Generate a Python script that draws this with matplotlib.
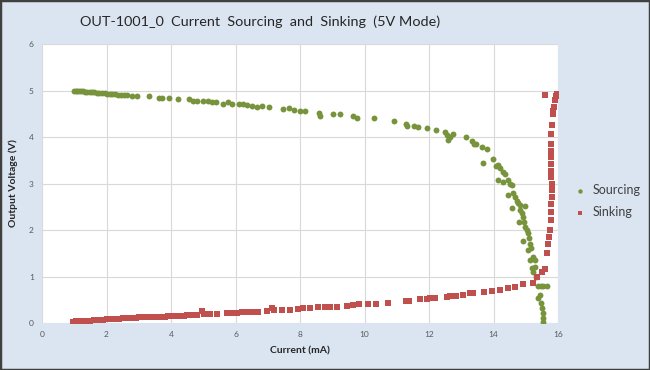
"""OUT-1001_0 current sourcing / sinking curves (5V mode)."""
import matplotlib
matplotlib.use("Agg")
import matplotlib.pyplot as plt
from matplotlib.patches import Rectangle

# Sourcing: output voltage vs load current (mA, V)
src_current = [
    1.00, 1.05, 1.10, 1.15, 1.20, 1.27, 1.33, 1.40, 1.48, 1.55, 1.62, 1.70,
    1.78, 1.86, 1.94, 2.02, 2.10, 2.18, 2.27, 2.36, 2.45, 2.55, 2.63, 2.78,
    2.96, 3.32, 3.64, 3.71, 3.94, 4.23, 4.57, 4.69, 4.82, 4.98, 5.16, 5.26,
    5.40, 5.60, 5.78, 5.90, 6.11, 6.24, 6.37, 6.50, 6.68, 6.81, 7.05, 7.46,
    7.67, 7.82, 8.00, 8.16, 8.60, 8.62, 9.01, 9.24, 9.65, 9.76, 10.30, 10.92,
    11.29, 11.31, 11.53, 11.67, 11.93, 12.20, 12.50, 12.55, 12.60, 12.65, 12.75,
    13.13, 13.32, 13.40, 13.46, 13.64, 13.81, 13.66, 13.97, 14.07, 14.15, 14.20,
    14.29, 14.36, 14.15, 14.29, 14.46, 14.51, 14.56, 14.46, 14.61, 14.67, 14.72,
    14.77, 14.82, 14.98, 14.58, 14.82, 14.87, 14.90, 14.95, 14.98, 15.03, 15.08,
    14.79, 14.90, 15.11, 15.13, 15.06, 15.16, 15.23, 15.29, 15.13, 15.18, 15.29,
    15.23, 15.32, 15.39, 15.47, 15.54, 15.65, 15.44, 15.39, 15.46, 15.49, 15.53,
    15.54, 15.54,
]
src_voltage = [
    4.99, 4.99, 4.99, 4.98, 4.98, 4.98, 4.97, 4.97, 4.96, 4.96, 4.96, 4.95,
    4.95, 4.94, 4.94, 4.93, 4.93, 4.92, 4.92, 4.91, 4.91, 4.90, 4.90, 4.89,
    4.89, 4.88, 4.85, 4.83, 4.83, 4.81, 4.81, 4.78, 4.78, 4.78, 4.77, 4.76,
    4.75, 4.71, 4.75, 4.71, 4.70, 4.70, 4.69, 4.67, 4.65, 4.67, 4.64, 4.60,
    4.62, 4.58, 4.56, 4.56, 4.51, 4.45, 4.49, 4.49, 4.45, 4.41, 4.40, 4.34,
    4.28, 4.24, 4.24, 4.21, 4.19, 4.16, 4.11, 4.04, 3.94, 4.01, 4.06,
    3.99, 3.91, 3.86, 3.85, 3.79, 3.74, 3.45, 3.53, 3.38, 3.40, 3.33,
    3.25, 3.20, 3.08, 3.04, 3.08, 3.00, 2.97, 2.75, 2.79, 2.72, 2.63,
    2.59, 2.54, 2.52, 2.48, 2.43, 2.36, 2.29, 2.18, 2.07, 2.00, 1.93,
    2.18, 1.77, 1.82, 1.71, 1.57, 1.61, 1.43, 1.36, 1.36, 1.18, 1.20,
    1.10, 1.00, 0.80, 0.80, 0.80, 0.80, 0.60, 0.53, 0.42, 0.32, 0.21,
    0.10, 0.03,
]

# Sinking: output voltage vs sink current (mA, V)
snk_current = [
    0.97, 1.05, 1.12, 1.20, 1.30, 1.40, 1.50, 1.60, 1.70, 1.80, 1.90, 2.00,
    2.10, 2.20, 2.30, 2.40, 2.50, 2.60, 2.70, 2.80, 2.90, 3.00, 3.10, 3.20,
    3.30, 3.40, 3.50, 3.60, 3.70, 3.80, 3.90, 4.00, 4.10, 4.20, 4.30, 4.40,
    4.50, 4.60, 4.70, 4.80, 4.97, 5.02, 5.21, 5.44, 5.73, 5.88, 6.04, 6.19,
    6.35, 6.50, 6.71, 6.97, 7.12, 7.19, 7.43, 7.69, 7.95, 8.10, 8.31, 8.57,
    8.78, 8.93, 9.14, 9.45, 9.65, 9.84, 10.12, 10.36, 10.74, 11.29, 11.37,
    11.72, 11.93, 12.03, 12.19, 12.57, 12.65, 12.84, 13.06, 13.27, 13.37,
    13.71, 13.94, 14.20, 14.44, 14.67, 14.90, 15.23, 15.34, 15.49, 15.60,
    15.67, 15.70, 15.73, 15.75, 15.77, 15.78, 15.79, 15.80, 15.80, 15.80,
    15.79, 15.78, 15.77, 15.77, 15.77, 15.77, 15.78, 15.80, 15.83, 15.85,
    15.87, 15.90, 15.95, 15.98, 15.60,
]
snk_voltage = [
    0.03, 0.04, 0.04, 0.04, 0.05, 0.05, 0.05, 0.06, 0.06, 0.07, 0.07, 0.08,
    0.08, 0.09, 0.09, 0.09, 0.10, 0.10, 0.10, 0.11, 0.11, 0.13, 0.12, 0.12,
    0.13, 0.13, 0.13, 0.14, 0.14, 0.14, 0.15, 0.15, 0.16, 0.16, 0.16, 0.16,
    0.17, 0.17, 0.17, 0.18, 0.26, 0.19, 0.19, 0.19, 0.21, 0.21, 0.22, 0.23,
    0.23, 0.23, 0.23, 0.26, 0.32, 0.28, 0.28, 0.29, 0.30, 0.32, 0.32, 0.34,
    0.35, 0.35, 0.35, 0.37, 0.39, 0.40, 0.41, 0.41, 0.44, 0.47, 0.48,
    0.51, 0.51, 0.53, 0.54, 0.57, 0.58, 0.59, 0.60, 0.64, 0.65,
    0.66, 0.69, 0.72, 0.75, 0.77, 0.84, 0.87, 0.98, 1.10, 1.17,
    1.50, 1.71, 1.86, 2.00, 2.21, 2.39, 2.57, 2.72, 2.86, 3.00,
    3.14, 3.28, 3.43, 3.57, 3.71, 3.86, 4.07, 4.25, 4.50, 4.57,
    4.64, 4.79, 4.89, 4.93, 4.91,
]

x_ticks = [0, 2, 4, 6, 8, 10, 12, 14, 16]
y_ticks = [0, 1, 2, 3, 4, 5, 6]

BG = "#dbe5f1"
GREEN = "#77933c"
RED = "#c0504d"
FONT = ["Lato", "DejaVu Sans"]

plt.rcParams["font.family"] = FONT

fig = plt.figure(figsize=(6.5, 3.7), dpi=100, facecolor=BG)
fig.patches.append(Rectangle((0, 0), 1, 1, transform=fig.transFigure,
                             fill=False, edgecolor="#404040", linewidth=2.5))

ax = fig.add_axes([0.0646, 0.127, 0.794, 0.754])
ax.set_facecolor("white")
ax.scatter(src_current, src_voltage, s=18, marker="o", color=GREEN,
           linewidths=0, label="Sourcing", zorder=3)
ax.scatter(snk_current, snk_voltage, s=14, marker="s", color=RED,
           linewidths=0, label="Sinking", zorder=3)

ax.set_xlim(0, 16)
ax.set_ylim(0, 6)
ax.set_xticks(x_ticks)
ax.set_yticks(y_ticks)
ax.tick_params(length=0, labelsize=6, labelcolor="#595959", pad=6)
ax.grid(True, color="#d9d9d9", linewidth=0.8)
ax.set_axisbelow(True)
for s in ax.spines.values():
    s.set_visible(False)

ax.set_xlabel("Current (mA)", fontsize=7.5, fontweight="bold", color="#262626",
              labelpad=6)
ax.set_ylabel("Output Voltage (V)", fontsize=7.5, fontweight="bold",
              color="#262626", labelpad=8)

fig.text(0.40, 0.94, "OUT-1001_0  Current  Sourcing  and  Sinking  (5V Mode)",
         ha="center", va="center", fontsize=10.4, color="#262626")

ax.legend(loc="center left", bbox_to_anchor=(0.997, 0.437), frameon=False,
          fontsize=9, handletextpad=0.0, labelspacing=0.85, markerscale=0.75,
          labelcolor="#404040")

fig.savefig("out.png", dpi=100, facecolor=BG)
